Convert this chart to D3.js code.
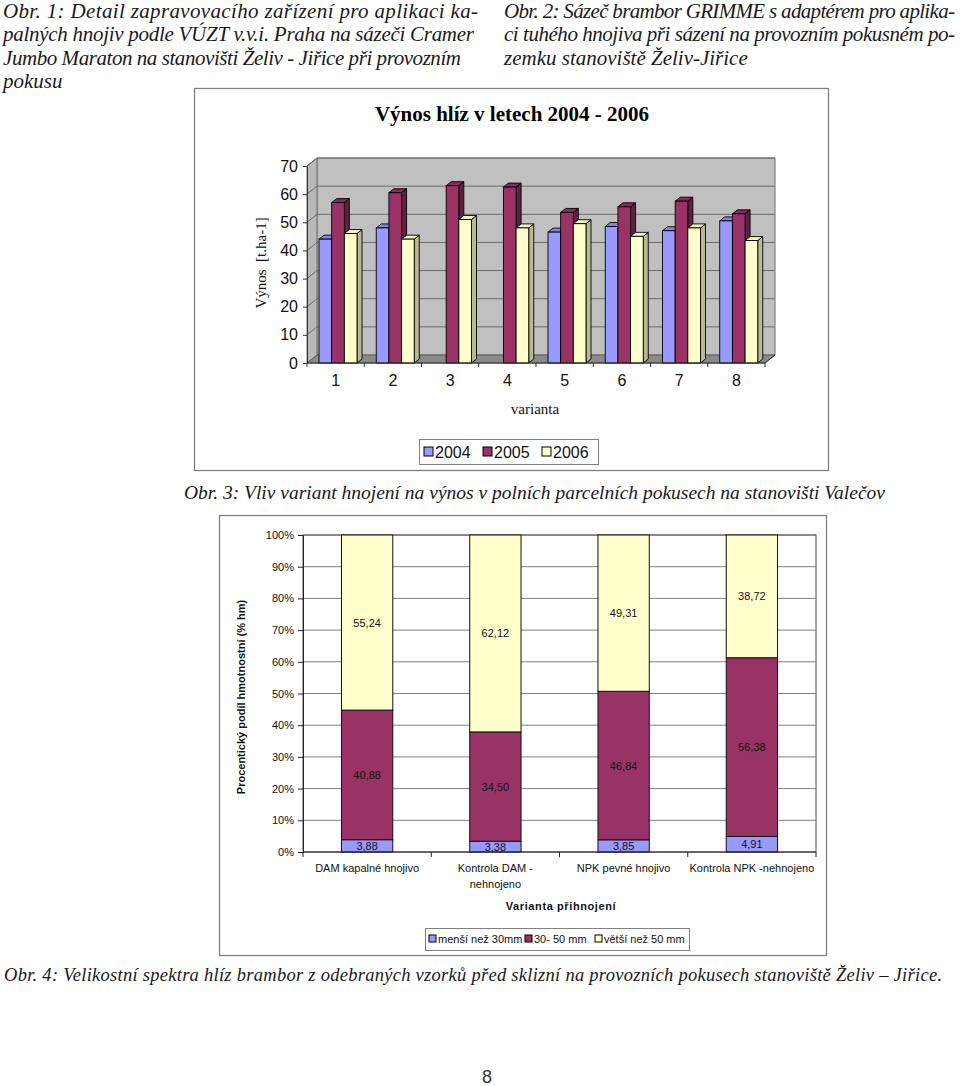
<!DOCTYPE html>
<html><head><meta charset="utf-8">
<script src="https://cdn.jsdelivr.net/npm/d3@7"></script>
<style>body{margin:0;background:#fff} svg{display:block}</style>
</head><body>
<svg id="c" width="960" height="1086"></svg>
<script>
// ---------- data: chart 1 ----------
const variants = ["1","2","3","4","5","6","7","8"];
const years = ["2004","2005","2006"];
const yield2004 = [44, 48, null, null, 46.5, 48.5, 47, 50.5];
const yield2005 = [57, 60.5, 63, 62.5, 53.5, 55.5, 57.5, 53];
const yield2006 = [46, 44, 51, 48, 49.5, 45, 48, 43.5];
const yTicks1 = [0,10,20,30,40,50,60,70];
// ---------- data: chart 2 ----------
const treatments = ["DAM kapalné hnojivo","Kontrola DAM -nehnojeno","NPK pevné hnojivo","Kontrola NPK -nehnojeno"];
const treatmentLines = [["DAM kapalné hnojivo"],["Kontrola DAM -","nehnojeno"],["NPK pevné hnojivo"],["Kontrola NPK -nehnojeno"]];
const sizeClasses = ["menší než 30mm","30- 50 mm","větší než 50 mm"];
const shareSmall = [3.88, 3.38, 3.85, 4.91];
const shareMid = [40.88, 34.50, 46.84, 56.38];
const shareLarge = [55.24, 62.12, 49.31, 38.72];
const yTicks2 = [0,0.1,0.2,0.3,0.4,0.5,0.6,0.7,0.8,0.9,1];

const colors = ["#9999ff","#993366","#ffffcc"];
const SERIF = "'Liberation Serif','Times New Roman',serif";
const SANS = "'Liberation Sans',Arial,sans-serif";
const TXT = "#1a1a1a";

const svg = d3.select("#c");
svg.append("rect").attr("width",960).attr("height",1086).attr("fill","#fff");

// ---------- surrounding text ----------
function para(lines, x, y0, lh, fs, anchor){
  lines.forEach((l,i)=>{
    const t = svg.append("text").attr("x",x).attr("y",y0+i*lh)
      .attr("font-family",SERIF).attr("font-style","italic").attr("font-size",fs)
      .attr("text-anchor",anchor||"start")
      .attr("fill",TXT).text(l[0]);
    if(l[1]) t.attr("textLength",l[1]).attr("lengthAdjust","spacing");
  });
}
para([["Obr. 1: Detail zapravovacího zařízení pro aplikaci ka-",475],
      ["palných hnojiv podle VÚZT v.v.i. Praha na sázeči Cramer",471],
      ["Jumbo Maraton na stanovišti Želiv - Jiřice při provozním",458],
      ["pokusu",null]], 3, 18, 23.3, 21);
para([["Obr. 2: Sázeč brambor GRIMME s adaptérem pro aplika-",451],
      ["ci tuhého hnojiva při sázení na provozním pokusném po-",451],
      ["zemku stanoviště Želiv-Jiřice",null]], 504, 18, 23.3, 21);
para([["Obr. 3: Vliv variant hnojení na výnos v polních parcelních pokusech na stanovišti Valečov",null]], 885, 499, 0, 19.5, "end");
para([["Obr. 4: Velikostní spektra hlíz brambor z odebraných vzorků před sklizní na provozních pokusech stanoviště Želiv – Jiřice.",938]], 4, 981, 0, 18.5);
svg.append("text").attr("x",487).attr("y",1083).attr("text-anchor","middle")
  .attr("font-family",SANS).attr("font-size",18).attr("fill","#333").text("8");

// ================= CHART 1 =================
const g1 = svg.append("g");
g1.append("rect").attr("x",194.5).attr("y",88.5).attr("width",634).attr("height",382)
  .attr("fill","#fff").attr("stroke","#808080").attr("stroke-width",1.3);
g1.append("text").attr("x",512).attr("y",121).attr("text-anchor","middle")
  .attr("font-family",SERIF).attr("font-weight","bold").attr("font-size",21).attr("fill","#000")
  .text("Výnos hlíz v letech 2004 - 2006");

const x1 = d3.scaleBand().domain(variants).range([307,765]);
const xIn = d3.scaleBand().domain(years).range([12,50]);
const y1 = d3.scaleLinear().domain([0,70]).range([363,166]);
const DX = 10, DY = -8, BDX = 5, BDY = -4;
const [xa, xb] = x1.range();
const line = d3.line();

// walls & floor
g1.append("path").attr("d", line([[xa+DX,y1(70)+DY],[xb+DX,y1(70)+DY],[xb+DX,y1(0)+DY],[xa+DX,y1(0)+DY]])+"Z")
  .attr("fill","#c0c0c0").attr("stroke","#707070");
g1.append("path").attr("d", line([[xa,y1(70)],[xa+DX,y1(70)+DY],[xa+DX,y1(0)+DY],[xa,y1(0)]])+"Z")
  .attr("fill","#b8b8b8").attr("stroke","#707070");
yTicks1.slice(1).forEach(v=>{
  g1.append("path").attr("d", line([[xa,y1(v)],[xa+DX,y1(v)+DY],[xb+DX,y1(v)+DY]]))
    .attr("fill","none").attr("stroke","#6a6a6a").attr("stroke-width",1);
});
g1.append("path").attr("d", line([[xa,y1(0)],[xa+DX,y1(0)+DY],[xb+DX,y1(0)+DY],[xb,y1(0)]])+"Z")
  .attr("fill","#8a8a8a").attr("stroke","#606060");

// bars
const series1 = [yield2004, yield2005, yield2006];
variants.forEach((vname,i)=>{
  years.forEach((yr,j)=>{
    const v = series1[j][i];
    if(v==null) return;
    const x = x1(vname)+xIn(yr), w = xIn.bandwidth(), top = y1(v), bot = y1(0);
    const c = colors[j];
    g1.append("path").attr("d", line([[x+w,top],[x+w+BDX,top+BDY],[x+w+BDX,bot+BDY],[x+w,bot]])+"Z")
      .attr("fill", d3.rgb(c).darker(j==2?0.9:1.3)).attr("stroke","#000").attr("stroke-width",0.9);
    g1.append("path").attr("d", line([[x,top],[x+BDX,top+BDY],[x+w+BDX,top+BDY],[x+w,top]])+"Z")
      .attr("fill", d3.rgb(c).darker(j==2?0.1:0.4)).attr("stroke","#000").attr("stroke-width",0.9);
    g1.append("rect").attr("x",x).attr("y",top).attr("width",w).attr("height",bot-top)
      .attr("fill",c).attr("stroke","#000").attr("stroke-width",0.9);
  });
});

// y axis
const ay1 = g1.append("g").attr("transform",`translate(${xa},0)`)
  .call(d3.axisLeft(y1).tickValues(yTicks1).tickSize(4).tickSizeOuter(0).tickPadding(5));
ay1.select(".domain").attr("stroke","#333");
ay1.selectAll(".tick line").attr("stroke","#333");
ay1.selectAll("text").attr("font-family",SANS).attr("font-size",16).attr("fill","#111");
// x axis
g1.append("path").attr("d", line([[xa,y1(0)],[xb,y1(0)],[xb+DX,y1(0)+DY]])).attr("fill","none").attr("stroke","#333");
d3.range(variants.length+1).forEach(k=>{
  const xx = xa + k*x1.step();
  g1.append("line").attr("x1",xx).attr("x2",xx).attr("y1",y1(0)).attr("y2",y1(0)+4).attr("stroke","#333");
});
const ax1 = g1.append("g").attr("transform",`translate(0,${y1(0)})`)
  .call(d3.axisBottom(x1).tickSize(0).tickPadding(12));
ax1.select(".domain").remove();
ax1.selectAll("text").attr("font-family",SANS).attr("font-size",16).attr("fill","#111");

g1.append("text").attr("x",535).attr("y",414).attr("text-anchor","middle")
  .attr("font-family",SERIF).attr("font-size",15).attr("fill","#111").text("varianta");
g1.append("text").attr("transform","translate(266,263) rotate(-90)").attr("text-anchor","middle")
  .attr("font-family",SERIF).attr("font-size",15).attr("fill","#111").attr("xml:space","preserve").text("Výnos  [t.ha-1]");

// legend 1
const lg1 = g1.append("g");
lg1.append("rect").attr("x",419.5).attr("y",439.5).attr("width",179).attr("height",25)
  .attr("fill","#fff").attr("stroke","#808080");
const lx1 = [424, 483, 542];
years.forEach((yr,j)=>{
  lg1.append("rect").attr("x",lx1[j]).attr("y",447).attr("width",9).attr("height",9)
    .attr("fill",colors[j]).attr("stroke","#000");
  lg1.append("text").attr("x",lx1[j]+11).attr("y",457.5).attr("font-family",SANS).attr("font-size",16)
    .attr("fill","#111").text(yr);
});

// ================= CHART 2 =================
const g2 = svg.append("g");
g2.append("rect").attr("x",219.5).attr("y",515.5).attr("width",607).attr("height",440)
  .attr("fill","#fff").attr("stroke","#808080").attr("stroke-width",1.3);

const x2 = d3.scaleBand().domain(treatments).range([303,816]).paddingInner(0.6).paddingOuter(0.3);
const y2 = d3.scaleLinear().domain([0,1]).range([852,535]);

yTicks2.slice(1).forEach(v=>{
  g2.append("line").attr("x1",303).attr("x2",816).attr("y1",y2(v)).attr("y2",y2(v))
    .attr("stroke","#808080").attr("stroke-width",1);
});
g2.append("rect").attr("x",303).attr("y",535).attr("width",513).attr("height",317)
  .attr("fill","none").attr("stroke","#555");

const rows = treatments.map((t,i)=>({t, small:shareSmall[i], mid:shareMid[i], large:shareLarge[i]}));
const keys = ["small","mid","large"];
const stacked = d3.stack().keys(keys).offset(d3.stackOffsetExpand)(rows);
const fmt = v => d3.format(".2f")(v).replace(".",",");
stacked.forEach((s,j)=>{
  s.forEach(d=>{
    g2.append("rect").attr("x",x2(d.data.t)).attr("y",y2(d[1])).attr("width",x2.bandwidth())
      .attr("height",y2(d[0])-y2(d[1])).attr("fill",colors[j]).attr("stroke","#111").attr("stroke-width",1);
  });
});
stacked.forEach((s,j)=>{
  s.forEach(d=>{
    g2.append("text").attr("x",x2(d.data.t)+x2.bandwidth()/2).attr("y",(y2(d[0])+y2(d[1]))/2+4)
      .attr("text-anchor","middle").attr("font-family",SANS).attr("font-size",11).attr("fill","#111")
      .text(fmt(d.data[s.key]));
  });
});

const ay2 = g2.append("g").attr("transform","translate(303,0)")
  .call(d3.axisLeft(y2).tickValues(yTicks2).tickFormat(d3.format(".0%")).tickSize(5).tickSizeOuter(0).tickPadding(4));
ay2.select(".domain").attr("stroke","#222");
ay2.selectAll(".tick line").attr("stroke","#222");
ay2.selectAll("text").attr("font-family",SANS).attr("font-size",11).attr("fill","#111");

g2.append("line").attr("x1",303).attr("x2",816).attr("y1",852).attr("y2",852).attr("stroke","#222");
d3.range(treatments.length+1).forEach(k=>{
  const xx = 303 + k*x2.step();
  g2.append("line").attr("x1",xx).attr("x2",xx).attr("y1",852).attr("y2",857).attr("stroke","#222");
});
treatments.forEach((t,i)=>{
  treatmentLines[i].forEach((ln,k)=>{
    g2.append("text").attr("x",x2(t)+x2.bandwidth()/2).attr("y",872+k*16).attr("text-anchor","middle")
      .attr("font-family",SANS).attr("font-size",11).attr("fill","#111").text(ln);
  });
});
g2.append("text").attr("x",561).attr("y",910).attr("text-anchor","middle")
  .attr("font-family",SANS).attr("font-weight","bold").attr("font-size",11).attr("letter-spacing",0.6)
  .attr("fill","#111").text("Varianta přihnojení");
g2.append("text").attr("transform","translate(245,697) rotate(-90)").attr("text-anchor","middle")
  .attr("font-family",SANS).attr("font-weight","bold").attr("font-size",11).attr("fill","#111")
  .text("Procentický podíl hmotnostní (% hm)");

// legend 2
const lg2 = g2.append("g");
lg2.append("rect").attr("x",425.5).attr("y",928.5).attr("width",264).attr("height",22)
  .attr("fill","#fff").attr("stroke","#808080");
const lx2 = [429, 525, 595];
sizeClasses.forEach((s,j)=>{
  lg2.append("rect").attr("x",lx2[j]).attr("y",935).attr("width",7).attr("height",7)
    .attr("fill",colors[j]).attr("stroke","#000");
  lg2.append("text").attr("x",lx2[j]+9).attr("y",943).attr("font-family",SANS).attr("font-size",11)
    .attr("fill","#111").text(s);
});
</script>
</body></html>
